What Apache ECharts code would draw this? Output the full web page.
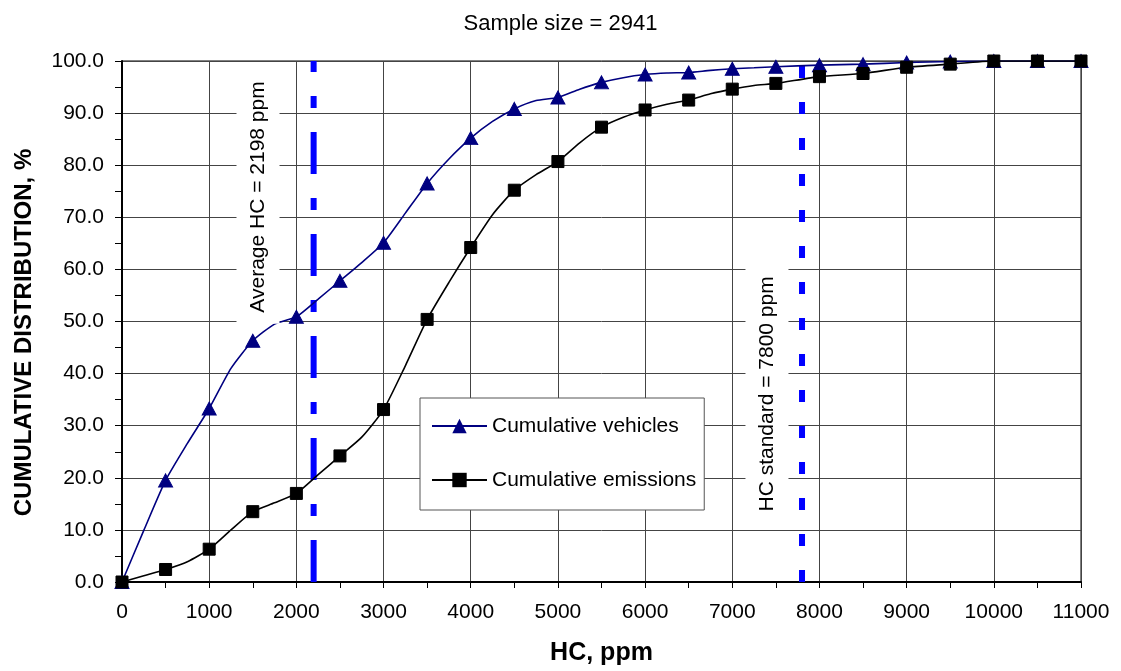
<!DOCTYPE html>
<html>
<head>
<meta charset="utf-8">
<title>Cumulative distribution of HC emissions</title>
<script src="https://cdn.jsdelivr.net/npm/echarts@6/dist/echarts.min.js"></script>
<style>
  html, body { margin: 0; padding: 0; background: #fff; }
  #chart { width: 1121px; height: 671px; }
</style>
</head>
<body>
<div id="chart"></div>
<script>
// HC concentration steps (ppm) at which both curves are sampled
const hcPpm = [
  0, 250, 500, 750, 1000, 1250, 1500, 1750, 2000, 2250, 2500, 2750,
  3000, 3250, 3500, 3750, 4000, 4250, 4500, 4750, 5000, 5250, 5500, 5750,
  6000, 6250, 6500, 6750, 7000, 7250, 7500,
  8000, 8500, 9000, 9500, 10000, 10500, 11000
];

// Cumulative share of vehicles (%)
const cumulativeVehicles = [
  0, 9.9, 19.5, 26.6, 33.3, 41.0, 46.3, 49.5, 50.9, 54.3, 57.8, 61.3,
  65.1, 70.8, 76.5, 81.2, 85.2, 88.4, 90.8, 92.4, 93.0, 94.6, 95.9, 96.8,
  97.4, 97.7, 97.8, 98.2, 98.5, 98.7, 98.9,
  99.2, 99.4, 99.7, 99.9, 100, 100, 100
];

// Cumulative share of emissions (%)
const cumulativeEmissions = [
  0, 1.2, 2.4, 3.9, 6.3, 10.0, 13.5, 15.2, 17.0, 20.6, 24.2, 27.8,
  33.1, 41.5, 50.4, 57.5, 64.2, 70.5, 75.2, 78.2, 80.7, 84.3, 87.3, 89.2,
  90.6, 91.7, 92.5, 93.7, 94.6, 95.3, 95.7,
  97.0, 97.6, 98.8, 99.4, 100, 100, 100
];

const seriesNames = ['Cumulative vehicles', 'Cumulative emissions'];
const averageHc = 2198;
const hcStandard = 7800;
const sampleSize = 2941;

const xTicks = { min: 0, max: 11000, interval: 1000 };
const yTicks = { min: 0, max: 100, interval: 10 };

const FONT = '"Liberation Sans", Arial, sans-serif';
const markerStep = 500;

// markers only on every 500 ppm step, the curve passes through all samples
function buildData(values, marker) {
  return hcPpm.map((x, i) => ({
    value: [x, values[i]],
    symbol: x % markerStep === 0 ? marker : 'none'
  }));
}

const chart = echarts.init(document.getElementById('chart'), null, { renderer: 'canvas' });

const option = {
  backgroundColor: '#ffffff',
  animation: false,
  title: {
    text: 'Sample size = ' + sampleSize,
    left: 'center',
    top: 8,
    textStyle: { fontFamily: FONT, fontSize: 22, fontWeight: 'normal', color: '#000' }
  },
  grid: {
    left: 122, right: 40, top: 61, bottom: 89,
    show: true, borderColor: '#000', borderWidth: 1, backgroundColor: 'transparent'
  },
  legend: {
    orient: 'vertical',
    left: 420,
    top: 398,
    data: seriesNames,
    itemWidth: 55,
    itemHeight: 18,
    itemGap: 30,
    padding: [16, 8, 18, 11],
    backgroundColor: '#ffffff',
    borderColor: '#555',
    borderWidth: 1,
    borderRadius: 0,
    textStyle: { fontFamily: FONT, fontSize: 21, color: '#000', lineHeight: 24 }
  },
  xAxis: {
    type: 'value',
    min: xTicks.min, max: xTicks.max, interval: xTicks.interval,
    name: 'HC, ppm',
    nameLocation: 'middle',
    nameGap: 59,
    nameTextStyle: { fontFamily: FONT, fontSize: 25, fontWeight: 'bold', color: '#000' },
    axisLine: { show: true, onZero: false, lineStyle: { color: '#000', width: 2 } },
    axisTick: { show: true, inside: false, length: 6, lineStyle: { color: '#000', width: 1 } },
    minorTick: { show: true, splitNumber: 2, length: 6, lineStyle: { color: '#000', width: 1 } },
    axisLabel: {
      fontFamily: FONT, fontSize: 21, color: '#000', margin: 20,
      formatter: v => String(v)
    },
    splitLine: { show: true, lineStyle: { color: '#444', width: 1 } }
  },
  yAxis: {
    type: 'value',
    min: yTicks.min, max: yTicks.max, interval: yTicks.interval,
    name: 'CUMULATIVE DISTRIBUTION, %',
    nameLocation: 'middle',
    nameGap: 86,
    nameTextStyle: {
      fontFamily: FONT, fontSize: 24, fontWeight: 'bold', color: '#000',
      padding: [0, 22, 0, 0]
    },
    axisLine: { show: true, onZero: false, lineStyle: { color: '#000', width: 2 } },
    axisTick: { show: true, inside: false, length: 7, lineStyle: { color: '#000', width: 1 } },
    minorTick: { show: true, splitNumber: 2, length: 7, lineStyle: { color: '#000', width: 1 } },
    axisLabel: {
      fontFamily: FONT, fontSize: 21, color: '#000', margin: 18,
      formatter: v => v.toFixed(1)
    },
    splitLine: { show: true, lineStyle: { color: '#444', width: 1 } }
  },
  series: [
    {
      name: 'Average HC',
      type: 'line',
      data: [[averageHc, yTicks.min], [averageHc, yTicks.max]],
      symbol: 'none',
      silent: true,
      z: 3,
      lineStyle: { color: '#0000ff', width: 6, type: [42, 24, 12, 24], cap: 'butt' }
    },
    {
      name: 'HC standard',
      type: 'line',
      data: [[hcStandard, yTicks.min], [hcStandard, yTicks.max]],
      symbol: 'none',
      silent: true,
      z: 3,
      lineStyle: { color: '#0000ff', width: 6, type: [12, 24], cap: 'butt' }
    },
    {
      name: seriesNames[0],
      type: 'line',
      data: buildData(cumulativeVehicles, 'triangle'),
      symbol: 'triangle',
      symbolSize: [14, 13],
      smooth: 0.2,
      z: 4,
      lineStyle: { color: '#000080', width: 1.6 },
      itemStyle: { color: '#000080', borderColor: '#000080' }
    },
    {
      name: seriesNames[1],
      type: 'line',
      data: buildData(cumulativeEmissions, 'rect'),
      symbol: 'rect',
      symbolSize: 12,
      smooth: 0.2,
      z: 4,
      lineStyle: { color: '#000000', width: 1.6 },
      itemStyle: { color: '#000000', borderColor: '#000000' }
    }
  ]
};

chart.setOption(option);

// vertical annotation boxes, placed through the chart's own coordinate system
function annotation(text, at) {
  const p = chart.convertToPixel({ gridIndex: 0 }, at);
  return {
    type: 'text',
    x: p[0],
    y: p[1],
    rotation: Math.PI / 2,
    z: 50,
    style: {
      text: text,
      font: '21px ' + FONT,
      fill: '#000',
      align: 'center',
      verticalAlign: 'middle',
      backgroundColor: '#ffffff',
      padding: [11, 11]
    }
  };
}

chart.setOption({
  graphic: [
    annotation('Average HC = ' + averageHc + ' ppm', [1560, 73.9]),
    annotation('HC standard = ' + hcStandard + ' ppm', [7398, 36.1])
  ]
});
</script>
</body>
</html>
